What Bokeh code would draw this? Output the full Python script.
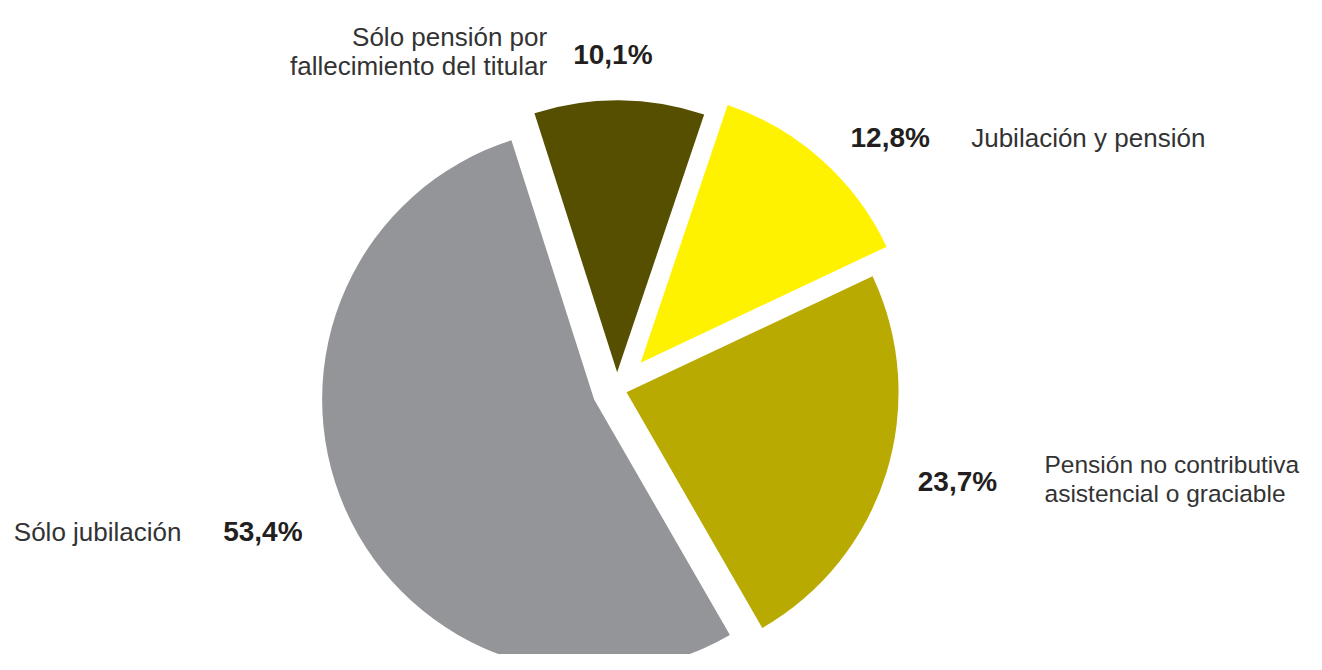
import math
from bokeh.plotting import figure
from bokeh.models import Range1d
from bokeh.core.properties import value
from bokeh.embed import file_html
from bokeh.resources import INLINE

# ---- data ----
categories = [
    ["Sólo pensión por", "fallecimiento del titular"],
    ["Jubilación y pensión"],
    ["Pensión no contributiva", "asistencial o graciable"],
    ["Sólo jubilación"],
]
values = [10.1, 12.8, 23.7, 53.4]
value_labels = ["10,1%", "12,8%", "23,7%", "53,4%"]

# ---- style / layout ----
colors = ["#574f00", "#fff200", "#b8aa00", "#939598"]
explode = [17, 35.5, 10, 25]          # px offset along bisector
start_cw = 342.3                       # degrees clockwise from 12 o'clock
W, H = 1306, 654
PAGE_H = 670
cx, cy_screen = 616.5, 388.8
radius = 272

# label anchors in screen px: (x, baseline_y of first line, align, font size)
cat_pos = [(546.7, 36, "right", 26), (970.7, 137, "left", 26), (1044, 463.5, "left", 24.5), (13.3, 531, "left", 26)]
val_pos = [(572.7, 53.5, "left"), (850, 137, "left"), (917.3, 480.5, "left"), (222.7, 531, "left")]
line_gap = 29

def sy(y):
    return PAGE_H - y

p = figure(width=W, height=H, x_range=Range1d(0, W), y_range=Range1d(PAGE_H - H, PAGE_H),
           output_backend="svg", toolbar_location=None, min_border=0)
p.axis.visible = False
p.grid.visible = False
p.outline_line_color = None
p.background_fill_color = "white"
p.border_fill_color = "white"

total = sum(values)
cum = start_cw
for v, col, ex in zip(values, colors, explode):
    t1 = cum
    t2 = cum + v / total * 360.0
    cum = t2
    tm = math.radians((t1 + t2) / 2)
    x0 = cx + ex * math.sin(tm)
    y0 = sy(cy_screen) + ex * math.cos(tm)
    p.wedge(x=[x0], y=[y0], radius=radius,
            start_angle=[math.radians(90 - t2)], end_angle=[math.radians(90 - t1)],
            fill_color=col, line_color=None)

for lines, (x, y, a, fs) in zip(categories, cat_pos):
    for i, ln in enumerate(lines):
        p.text(x=[x], y=[sy(y + i * line_gap)], text=[ln], text_align=a, text_baseline="alphabetic",
               text_font=value("Liberation Sans"), text_font_size=f"{fs}px", text_color="#333333")

for t, (x, y, a) in zip(value_labels, val_pos):
    p.text(x=[x], y=[sy(y)], text=[t], text_align=a, text_baseline="alphabetic",
           text_font=value("Liberation Sans"), text_font_size="28px", text_font_style="bold",
           text_color="#231f20")

open("out.html", "w").write(file_html(p, INLINE))
